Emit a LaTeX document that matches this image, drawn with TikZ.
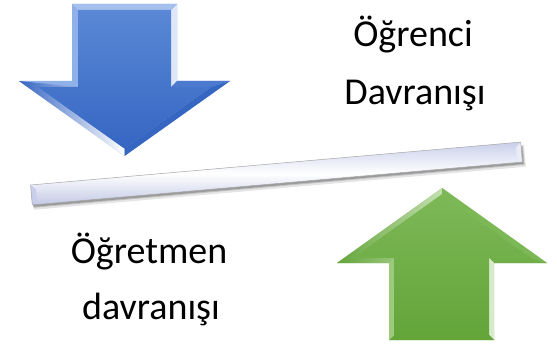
\documentclass[tikz,border=0pt]{standalone}
\usepackage{fontspec}
\setmainfont{Carlito}
\definecolor{blueA}{HTML}{5A88D6}
\definecolor{blueB}{HTML}{3566C2}
\definecolor{blueEdge}{HTML}{8FB0E8}
\definecolor{greenA}{HTML}{7DB857}
\definecolor{greenB}{HTML}{64A53A}
\definecolor{greenEdge}{HTML}{9CCB7C}
\definecolor{barA}{HTML}{C9CFEA}
\definecolor{barB}{HTML}{C3C9E6}
\tikzset{lbl/.style={font=\fontsize{38}{46}\selectfont, text=black, anchor=base, inner sep=0pt}}
\begin{document}
\begin{tikzpicture}[x=1pt,y=-1pt]
\useasboundingbox (0,0) rectangle (557,345);
\fill[white] (0,0) rectangle (557,345);
% ---------- blue arrow (down) ----------
\fill[blueEdge] (72,4) -- (177,4) -- (177,81) -- (230,81) -- (124.5,156) -- (19,81) -- (72,81) -- cycle;
\shade[left color=blueB, right color=white] (19,81) -- (124.5,156) -- (124.5,148.6) -- (37.8,87) -- (78,87) -- cycle;
\fill[white!70!blueEdge] (171,10) -- (177,4) -- (177,81) -- (171,87) -- cycle;
\fill[blueEdge!80!white] (72,4) -- (177,4) -- (171,10) -- (78,10) -- cycle;
\fill[blueA!60!blueB] (177,81) -- (230,81) -- (211.2,87) -- (171,87) -- cycle;
\fill[blueB] (230,81) -- (124.5,156) -- (124.5,148.6) -- (211.2,87) -- cycle;
\shade[top color=blueA, bottom color=blueB] (78,10) -- (171,10) -- (171,87) -- (211.2,87) -- (124.5,148.6) -- (37.8,87) -- (78,87) -- cycle;
\node[inner sep=0pt] (down) at (124.5,80) {};
% ---------- bar ----------
\begin{scope}[shift={(276.5,173.5)}, rotate=5]
  \fill[black, opacity=0.10] (-245,-7) rectangle (249,15);
  \fill[black, opacity=0.15] (-245,-6) rectangle (248,13);
  \fill[black, opacity=0.20] (-245,-5) rectangle (247,12);
  \shade[top color=barA, bottom color=barB, middle color=white] (-246,-10) rectangle (246,10);
  \fill[barA] (-246,-10) -- (-241,-5) -- (-241,5) -- (-246,10) -- cycle;
  \fill[white!60!barA] (246,-10) -- (241,-5) -- (241,5) -- (246,10) -- cycle;
  \draw[gray!70, line width=0.5pt] (-246,-10) rectangle (246,10);
  \node[inner sep=0pt] (bar) at (0,0) {};
\end{scope}
% ---------- green arrow (up) ----------
\fill[greenEdge] (442,188) -- (547,263) -- (494,263) -- (494,340) -- (389,340) -- (389,263) -- (337,263) -- cycle;
\shade[left color=greenB, right color=greenEdge!60!white] (337,263) -- (442,188) -- (442,194.2) -- (352.6,258) -- (394,258) -- (389,263) -- cycle;
\fill[greenA] (442,188) -- (547,263) -- (531.4,258) -- (442,194.2) -- cycle;
\fill[greenA!50!greenB] (547,263) -- (494,263) -- (489,258) -- (531.4,258) -- cycle;
\fill[white!60!greenEdge] (489,258) -- (494,263) -- (494,340) -- (489,335) -- cycle;
\fill[greenB] (389,340) -- (494,340) -- (489,335) -- (394,335) -- cycle;
\fill[greenEdge] (389,263) -- (394,258) -- (394,335) -- (389,340) -- cycle;
\shade[top color=greenA, bottom color=greenB] (442,194.2) -- (531.4,258) -- (489,258) -- (489,335) -- (394,335) -- (394,258) -- (352.6,258) -- cycle;
\node[inner sep=0pt] (up) at (441.5,270) {};
% ---------- labels ----------
\node[lbl] (t1) at (413,47) {Öğrenci};
\node[lbl] (t2) at (415,104) {Davranışı};
\node[lbl] (t3) at (149,263) {Öğretmen};
\node[lbl] (t4) at (151,319) {davranışı};
\end{tikzpicture}
\end{document}
